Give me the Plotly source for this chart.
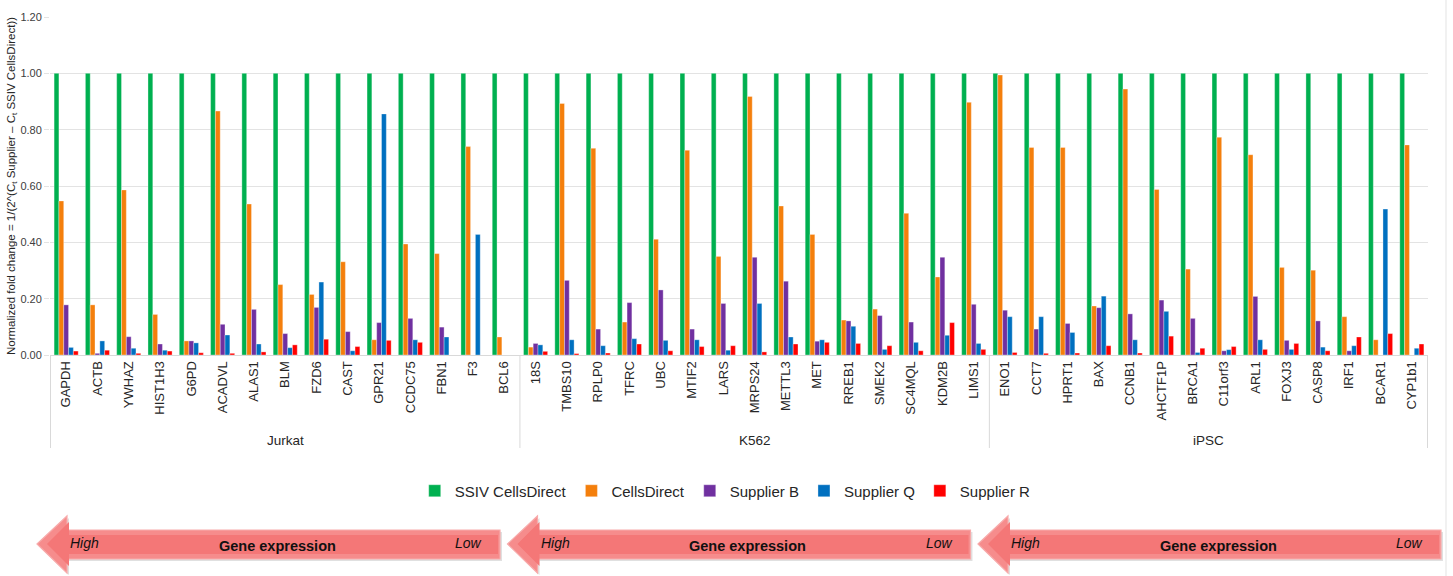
import plotly.graph_objects as go

cell_lines = ["Jurkat", "K562", "iPSC"]
genes_jurkat = ["GAPDH", "ACTB", "YWHAZ", "HIST1H3", "G6PD", "ACADVL", "ALAS1", "BLM",
                "FZD6", "CAST", "GPR21", "CCDC75", "FBN1", "F3", "BCL6"]
genes_k562 = ["18S", "TMBS10", "RPLP0", "TFRC", "UBC", "MTIF2", "LARS", "MRPS24",
              "METTL3", "MET", "RREB1", "SMEK2", "SC4MQL", "KDM2B", "LIMS1"]
genes_ipsc = ["ENO1", "CCT7", "HPRT1", "BAX", "CCNB1", "AHCTF1P", "BRCA1", "C11orf3",
              "ARL1", "FOXJ3", "CASP8", "IRF1", "BCAR1", "CYP1b1"]
genes = genes_jurkat + genes_k562 + genes_ipsc

ssiv_cellsdirect = [1.0] * 44
cellsdirect = [0.547, 0.178, 0.586, 0.144, 0.050, 0.866, 0.536, 0.250, 0.215, 0.331, 0.054, 0.394, 0.360, 0.740, 0.064,
               0.028, 0.893, 0.734, 0.117, 0.411, 0.727, 0.350, 0.918, 0.529, 0.428, 0.124, 0.163, 0.503, 0.277, 0.897,
               0.994, 0.737, 0.737, 0.174, 0.944, 0.588, 0.305, 0.773, 0.711, 0.311, 0.301, 0.136, 0.054, 0.746]
supplier_b = [0.178, 0.006, 0.065, 0.039, 0.050, 0.109, 0.162, 0.076, 0.169, 0.083, 0.115, 0.130, 0.099, None, None,
              0.041, 0.265, 0.092, 0.186, 0.231, 0.092, 0.183, 0.347, 0.262, 0.049, 0.121, 0.140, 0.117, 0.347, 0.180,
              0.159, 0.092, 0.112, 0.168, 0.146, 0.195, 0.130, 0.015, 0.208, 0.052, 0.121, 0.015, None, None]
supplier_q = [0.027, 0.050, 0.024, 0.017, 0.043, 0.071, 0.039, 0.026, 0.259, 0.015, 0.856, 0.054, 0.064, 0.428, None,
              0.036, 0.054, 0.033, 0.058, 0.052, 0.054, 0.017, 0.183, 0.064, 0.054, 0.102, 0.020, 0.045, 0.070, 0.041,
              0.136, 0.136, 0.080, 0.209, 0.054, 0.155, 0.009, 0.019, 0.054, 0.020, 0.028, 0.033, 0.518, 0.024]
supplier_r = [0.014, 0.017, 0.006, 0.014, 0.008, 0.006, 0.011, 0.036, 0.056, 0.030, 0.052, 0.045, None, None, None,
              0.013, 0.005, 0.007, 0.039, 0.015, 0.030, 0.033, 0.011, 0.039, 0.045, 0.041, 0.033, 0.015, 0.115, 0.020,
              0.009, 0.006, 0.007, 0.033, 0.007, 0.067, 0.024, 0.030, 0.020, 0.041, 0.015, 0.064, 0.076, 0.039]

series_names = ["SSIV CellsDirect", "CellsDirect", "Supplier B", "Supplier Q", "Supplier R"]
series_values = [ssiv_cellsdirect, cellsdirect, supplier_b, supplier_q, supplier_r]
series_colors = ["#00B050", "#F47F0C", "#7030A0", "#0070C0", "#FF0000"]

y_ticks = [0.0, 0.2, 0.4, 0.6, 0.8, 1.0, 1.2]

FONT = "Liberation Sans, Arial, sans-serif"
W, H = 1453, 576
PL, PR, PT, PB = 50, 1428, 17, 355


def px(x):
    return (x - PL) / (PR - PL)


def py(y):
    return (PB - y) / (PB - PT)


fig = go.Figure()
for name, vals, col in zip(series_names, series_values, series_colors):
    fig.add_trace(go.Bar(
        x=genes, y=vals, name=name,
        marker=dict(color=col, line=dict(color="rgba(255,255,255,0.55)", width=0.6)),
    ))

shapes = []
n1, n2, n3 = len(genes_jurkat), len(genes_k562), len(genes_ipsc)
for xv in [-0.5, n1 - 0.5, n1 + n2 - 0.5, n1 + n2 + n3 - 0.5]:
    shapes.append(dict(type="line", xref="x", yref="paper", x0=xv, x1=xv, y0=0, y1=py(448),
                       line=dict(color="#D9D9D9", width=1)))
shapes.append(dict(type="line", xref="paper", yref="paper", x0=px(1446), x1=px(1446), y0=py(0), y1=py(576),
                   line=dict(color="#E3E3E3", width=1)))

annotations = []
group_centers = [(n1 - 1) / 2, n1 + (n2 - 1) / 2, n1 + n2 + (n3 - 1) / 2]
for lab, xc in zip(cell_lines, group_centers):
    annotations.append(dict(x=xc, xref="x", y=py(440), yref="paper", text=lab, showarrow=False,
                            font=dict(family=FONT, size=13.5, color="#262626"), yanchor="middle"))

for k in range(3):
    tip = 37 + 470.5 * k
    tail = tip + 463
    hx = tip + 30
    pts = [(tip, 544), (hx, 516), (hx, 530), (tail, 530), (tail, 559), (hx, 559), (hx, 573)]
    spath = "M " + " L ".join(f"{px(a + 2):.5f},{py(b + 2):.5f}" for a, b in pts) + " Z"
    shapes.append(dict(type="path", xref="paper", yref="paper", path=spath,
                       fillcolor="rgba(0,0,0,0.12)", line=dict(width=0)))
    path = "M " + " L ".join(f"{px(a):.5f},{py(b):.5f}" for a, b in pts) + " Z"
    shapes.append(dict(type="path", xref="paper", yref="paper", path=path,
                       fillcolor="#F68C8C", line=dict(color="#F7ABAB", width=1.2)))
    ipts = [(tip + 10, 544), (hx + 2, 522), (hx + 2, 535), (tail - 2, 535), (tail - 2, 554), (hx + 2, 554), (hx + 2, 566)]
    ipath = "M " + " L ".join(f"{px(a):.5f},{py(b):.5f}" for a, b in ipts) + " Z"
    shapes.append(dict(type="path", xref="paper", yref="paper", path=ipath,
                       fillcolor="#F47777", line=dict(width=0)))
    annotations.append(dict(x=px(tip + 31), xref="paper", y=py(543), yref="paper", text="<i>High</i>",
                            showarrow=False, xanchor="left", yanchor="middle",
                            font=dict(family=FONT, size=14, color="#111111")))
    annotations.append(dict(x=px(tip + 240), xref="paper", y=py(546), yref="paper", text="<b>Gene expression</b>",
                            showarrow=False, xanchor="center", yanchor="middle",
                            font=dict(family=FONT, size=14.5, color="#111111")))
    annotations.append(dict(x=px(tip + 447), xref="paper", y=py(543), yref="paper", text="<i>Low</i>",
                            showarrow=False, xanchor="right", yanchor="middle",
                            font=dict(family=FONT, size=14, color="#111111")))

fig.update_layout(
    width=W, height=H,
    margin=dict(l=PL, r=W - PR, t=PT, b=H - PB, pad=0),
    paper_bgcolor="white", plot_bgcolor="white",
    barmode="group", bargap=0.23, bargroupgap=0.0,
    font=dict(family=FONT, color="#262626"),
    showlegend=True,
    legend=dict(orientation="h", x=0.49, xanchor="center", y=py(491), yanchor="middle",
                font=dict(family=FONT, size=15, color="#262626"), itemwidth=30,
                traceorder="normal"),
    xaxis=dict(type="category", tickangle=-90, showgrid=False, showline=True, linecolor="#D9D9D9",
               ticks="", tickfont=dict(family=FONT, size=13, color="#262626"), automargin=False),
    yaxis=dict(range=[0, 1.2], tickvals=y_ticks, tickformat=".2f", showgrid=True, gridcolor="#E3E3E3",
               gridwidth=1, zeroline=False, showline=False, ticks="outside", ticklen=5, tickcolor="#E3E3E3",
               tickfont=dict(family=FONT, size=11, color="#404040"), automargin=False,
               title=dict(text="Normalized fold change = 1/(2^(C<sub>t</sub> Supplier – C<sub>t</sub> SSIV CellsDirect))",
                          font=dict(family=FONT, size=11.5, color="#262626"), standoff=2)),
    shapes=shapes, annotations=annotations,
)

fig.write_html("out.html", config={"displayModeBar": False},
               post_script="document.body.style.margin='0';document.body.style.overflow='hidden';")
